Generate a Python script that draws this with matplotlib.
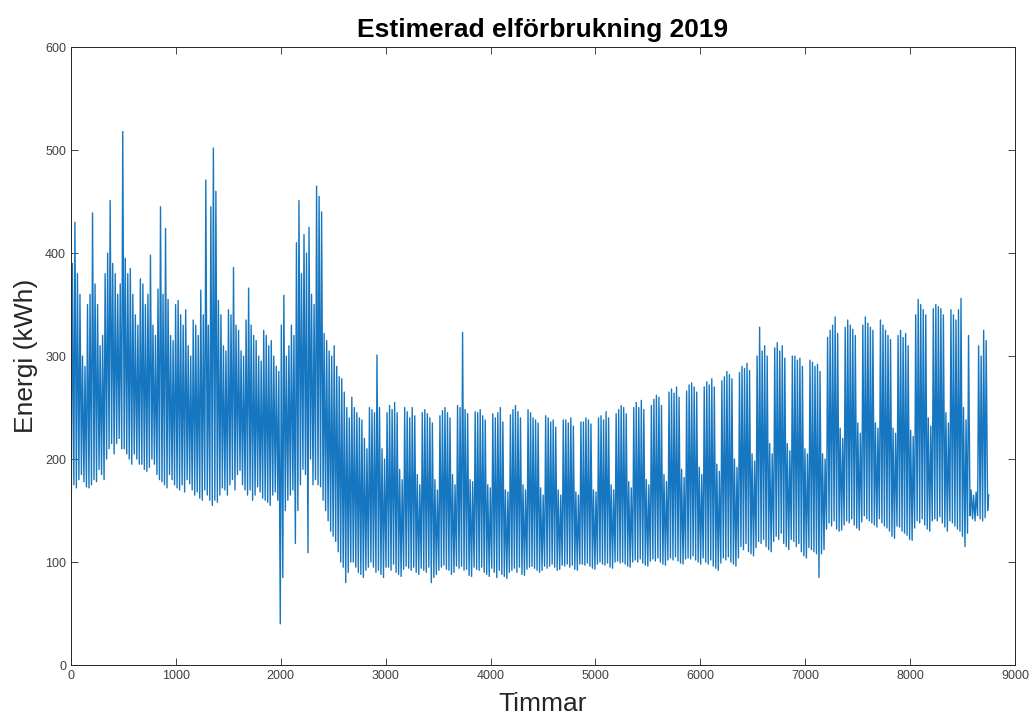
import numpy as np
import matplotlib
matplotlib.use("Agg")
import matplotlib.pyplot as plt

# Daily peak / night-low estimates (kWh), one row per week
# (day 0 = Tue 1 Jan 2019; columns Tue, Wed, Thu, Fri, Sat, Sun, Mon)
day_highs = [
    390, 430, 380, 360, 300, 290, 350,
    360, 439, 370, 350, 310, 320, 380,
    400, 451, 390, 380, 360, 370, 518,
    395, 380, 385, 360, 340, 330, 375,
    370, 350, 360, 398, 330, 320, 365,
    445, 360, 424, 355, 320, 315, 350,
    354, 340, 330, 345, 310, 300, 335,
    330, 320, 364, 340, 471, 330, 445,
    502, 460, 354, 340, 310, 305, 345,
    340, 386, 330, 325, 305, 300, 335,
    366, 330, 320, 315, 300, 295, 325,
    320, 310, 315, 300, 290, 285, 330,
    359, 300, 310, 330, 320, 410, 451,
    380, 418, 400, 425, 360, 350, 465,
    455, 440, 322, 315, 305, 300, 310,
    290, 280, 278, 265, 250, 240, 260,
    250, 245, 240, 238, 220, 210, 250,
    248, 245, 301, 250, 210, 200, 245,
    252, 248, 255, 245, 190, 180, 250,
    246, 240, 250, 242, 185, 175, 245,
    248, 244, 240, 235, 180, 170, 242,
    247, 250, 245, 240, 185, 175, 252,
    250, 323, 248, 244, 180, 178, 246,
    245, 248, 242, 238, 175, 172, 244,
    240, 245, 250, 236, 170, 168, 243,
    248, 252, 246, 240, 175, 170, 248,
    245, 240, 238, 235, 172, 165, 242,
    240, 236, 238, 231, 170, 165, 238,
    238, 235, 240, 232, 168, 165, 236,
    236, 240, 238, 234, 170, 168, 240,
    242, 238, 246, 240, 175, 170, 244,
    248, 252, 250, 244, 178, 172, 250,
    255, 250, 257, 248, 180, 175, 252,
    258, 262, 260, 252, 185, 178, 265,
    268, 264, 270, 260, 190, 182, 266,
    272, 274, 270, 265, 192, 185, 270,
    275, 272, 278, 270, 195, 188, 276,
    280, 285, 282, 278, 200, 192, 284,
    290, 288, 293, 286, 205, 198, 300,
    328, 305, 310, 300, 215, 205, 308,
    313, 305, 310, 298, 215, 208, 300,
    300, 296, 298, 290, 210, 205, 296,
    294, 290, 292, 285, 205, 200, 318,
    325, 330, 338, 322, 230, 220, 328,
    335, 330, 326, 320, 235, 225, 330,
    338, 332, 328, 325, 235, 230, 335,
    330, 325, 320, 316, 230, 225, 320,
    325, 318, 322, 310, 228, 222, 340,
    355, 350, 345, 340, 240, 232, 346,
    350, 348, 346, 340, 245, 235, 345,
    340, 335, 345, 356, 250, 238, 320,
    170, 165, 168, 310, 300, 325, 315,
    165,
]

day_lows = [
    170, 175, 172, 180, 185, 178, 173,
    172, 175, 180, 178, 190, 185, 180,
    200, 210, 215, 205, 215, 220, 210,
    210, 205, 200, 195, 205, 200, 195,
    195, 190, 188, 192, 200, 195, 185,
    180, 178, 175, 172, 185, 180, 175,
    172, 170, 175, 168, 180, 176, 170,
    165, 168, 162, 160, 170, 165, 160,
    155, 160, 158, 165, 172, 170, 165,
    175, 180, 170, 185, 189, 175, 170,
    165, 170, 160, 165, 173, 168, 162,
    160, 158, 155, 165, 168, 160, 40,
    85, 150, 160, 165, 170, 118, 150,
    175, 190, 185, 109, 200, 175, 180,
    175, 173, 160, 150, 140, 130, 125,
    120, 110, 100, 95, 80, 90, 100,
    100, 95, 90, 88, 85, 92, 95,
    100, 95, 90, 92, 88, 85, 95,
    95, 92, 98, 90, 88, 86, 93,
    96, 94, 92, 95, 90, 88, 94,
    92, 90, 95, 80, 85, 88, 92,
    95, 97, 93, 92, 88, 90, 96,
    94, 96, 92, 93, 87, 86, 95,
    93, 92, 95, 90, 88, 86, 94,
    90, 85, 92, 88, 86, 84, 90,
    92, 94, 90, 95, 88, 87, 93,
    95, 96, 94, 92, 90, 92, 96,
    94, 96, 98, 95, 92, 93, 97,
    96, 98, 95, 97, 93, 92, 98,
    98, 97, 99, 96, 94, 93, 98,
    100, 98, 97, 99, 95, 94, 100,
    101, 99, 100, 98, 96, 95, 100,
    102, 100, 103, 99, 97, 96, 101,
    103, 101, 104, 100, 98, 97, 102,
    104, 102, 105, 101, 99, 98, 103,
    104, 103, 106, 102, 100, 98, 104,
    100, 98, 102, 96, 94, 92, 99,
    104, 102, 105, 100, 98, 96, 104,
    115, 112, 118, 110, 108, 106, 114,
    120, 118, 122, 115, 112, 110, 120,
    125, 122, 128, 118, 115, 112, 122,
    120, 115, 118, 110, 106, 104, 114,
    112, 110, 108, 85, 108, 112, 132,
    138, 135, 140, 132, 130, 131, 136,
    140, 138, 142, 136, 133, 131, 139,
    145, 142, 140, 138, 136, 134, 142,
    138, 135, 133, 130, 125, 123, 135,
    134, 130, 128, 126, 122, 121, 133,
    140, 138, 142, 136, 132, 130, 140,
    142, 140, 144, 138, 134, 130, 140,
    138, 135, 132, 130, 125, 115, 128,
    145, 142, 140, 145, 142, 140, 143,
    150,
]

x_ticks = list(range(0, 9001, 1000))
y_ticks = list(range(0, 601, 100))

# night low around 03:00, daytime peak around 13:00
days = np.arange(len(day_highs))
hours = np.column_stack([days * 24 + 3, days * 24 + 13]).ravel()
energy = np.column_stack([day_lows, day_highs]).ravel()

plt.rcParams['font.family'] = ['Liberation Sans Narrow', 'Liberation Sans', 'DejaVu Sans']

fig = plt.figure(figsize=(10.31, 7.16), dpi=100)
ax = fig.add_axes([0.0689, 0.0712, 0.9156, 0.8630])

ax.plot(hours, energy, color='#1677c0', linewidth=1.0)

ax.set_xlim(0, 9000)
ax.set_ylim(0, 600)
ax.set_xticks(x_ticks)
ax.set_yticks(y_ticks)
ax.tick_params(direction='in', top=True, right=True, length=5, width=0.6,
               labelsize=9, colors='#262626', labelcolor='#404040')
for side in ax.spines.values():
    side.set_linewidth(0.7)
    side.set_color('#262626')

ax.set_title("Estimerad elförbrukning 2019", fontsize=19, fontweight='bold',
             family=['Liberation Sans', 'DejaVu Sans'], pad=7)
ax.set_xlabel("Timmar", fontsize=19, color='#262626', labelpad=7)
ax.set_ylabel("Energi (kWh)", fontsize=19, color='#262626', labelpad=5)

plt.savefig("out.png", dpi=100)
